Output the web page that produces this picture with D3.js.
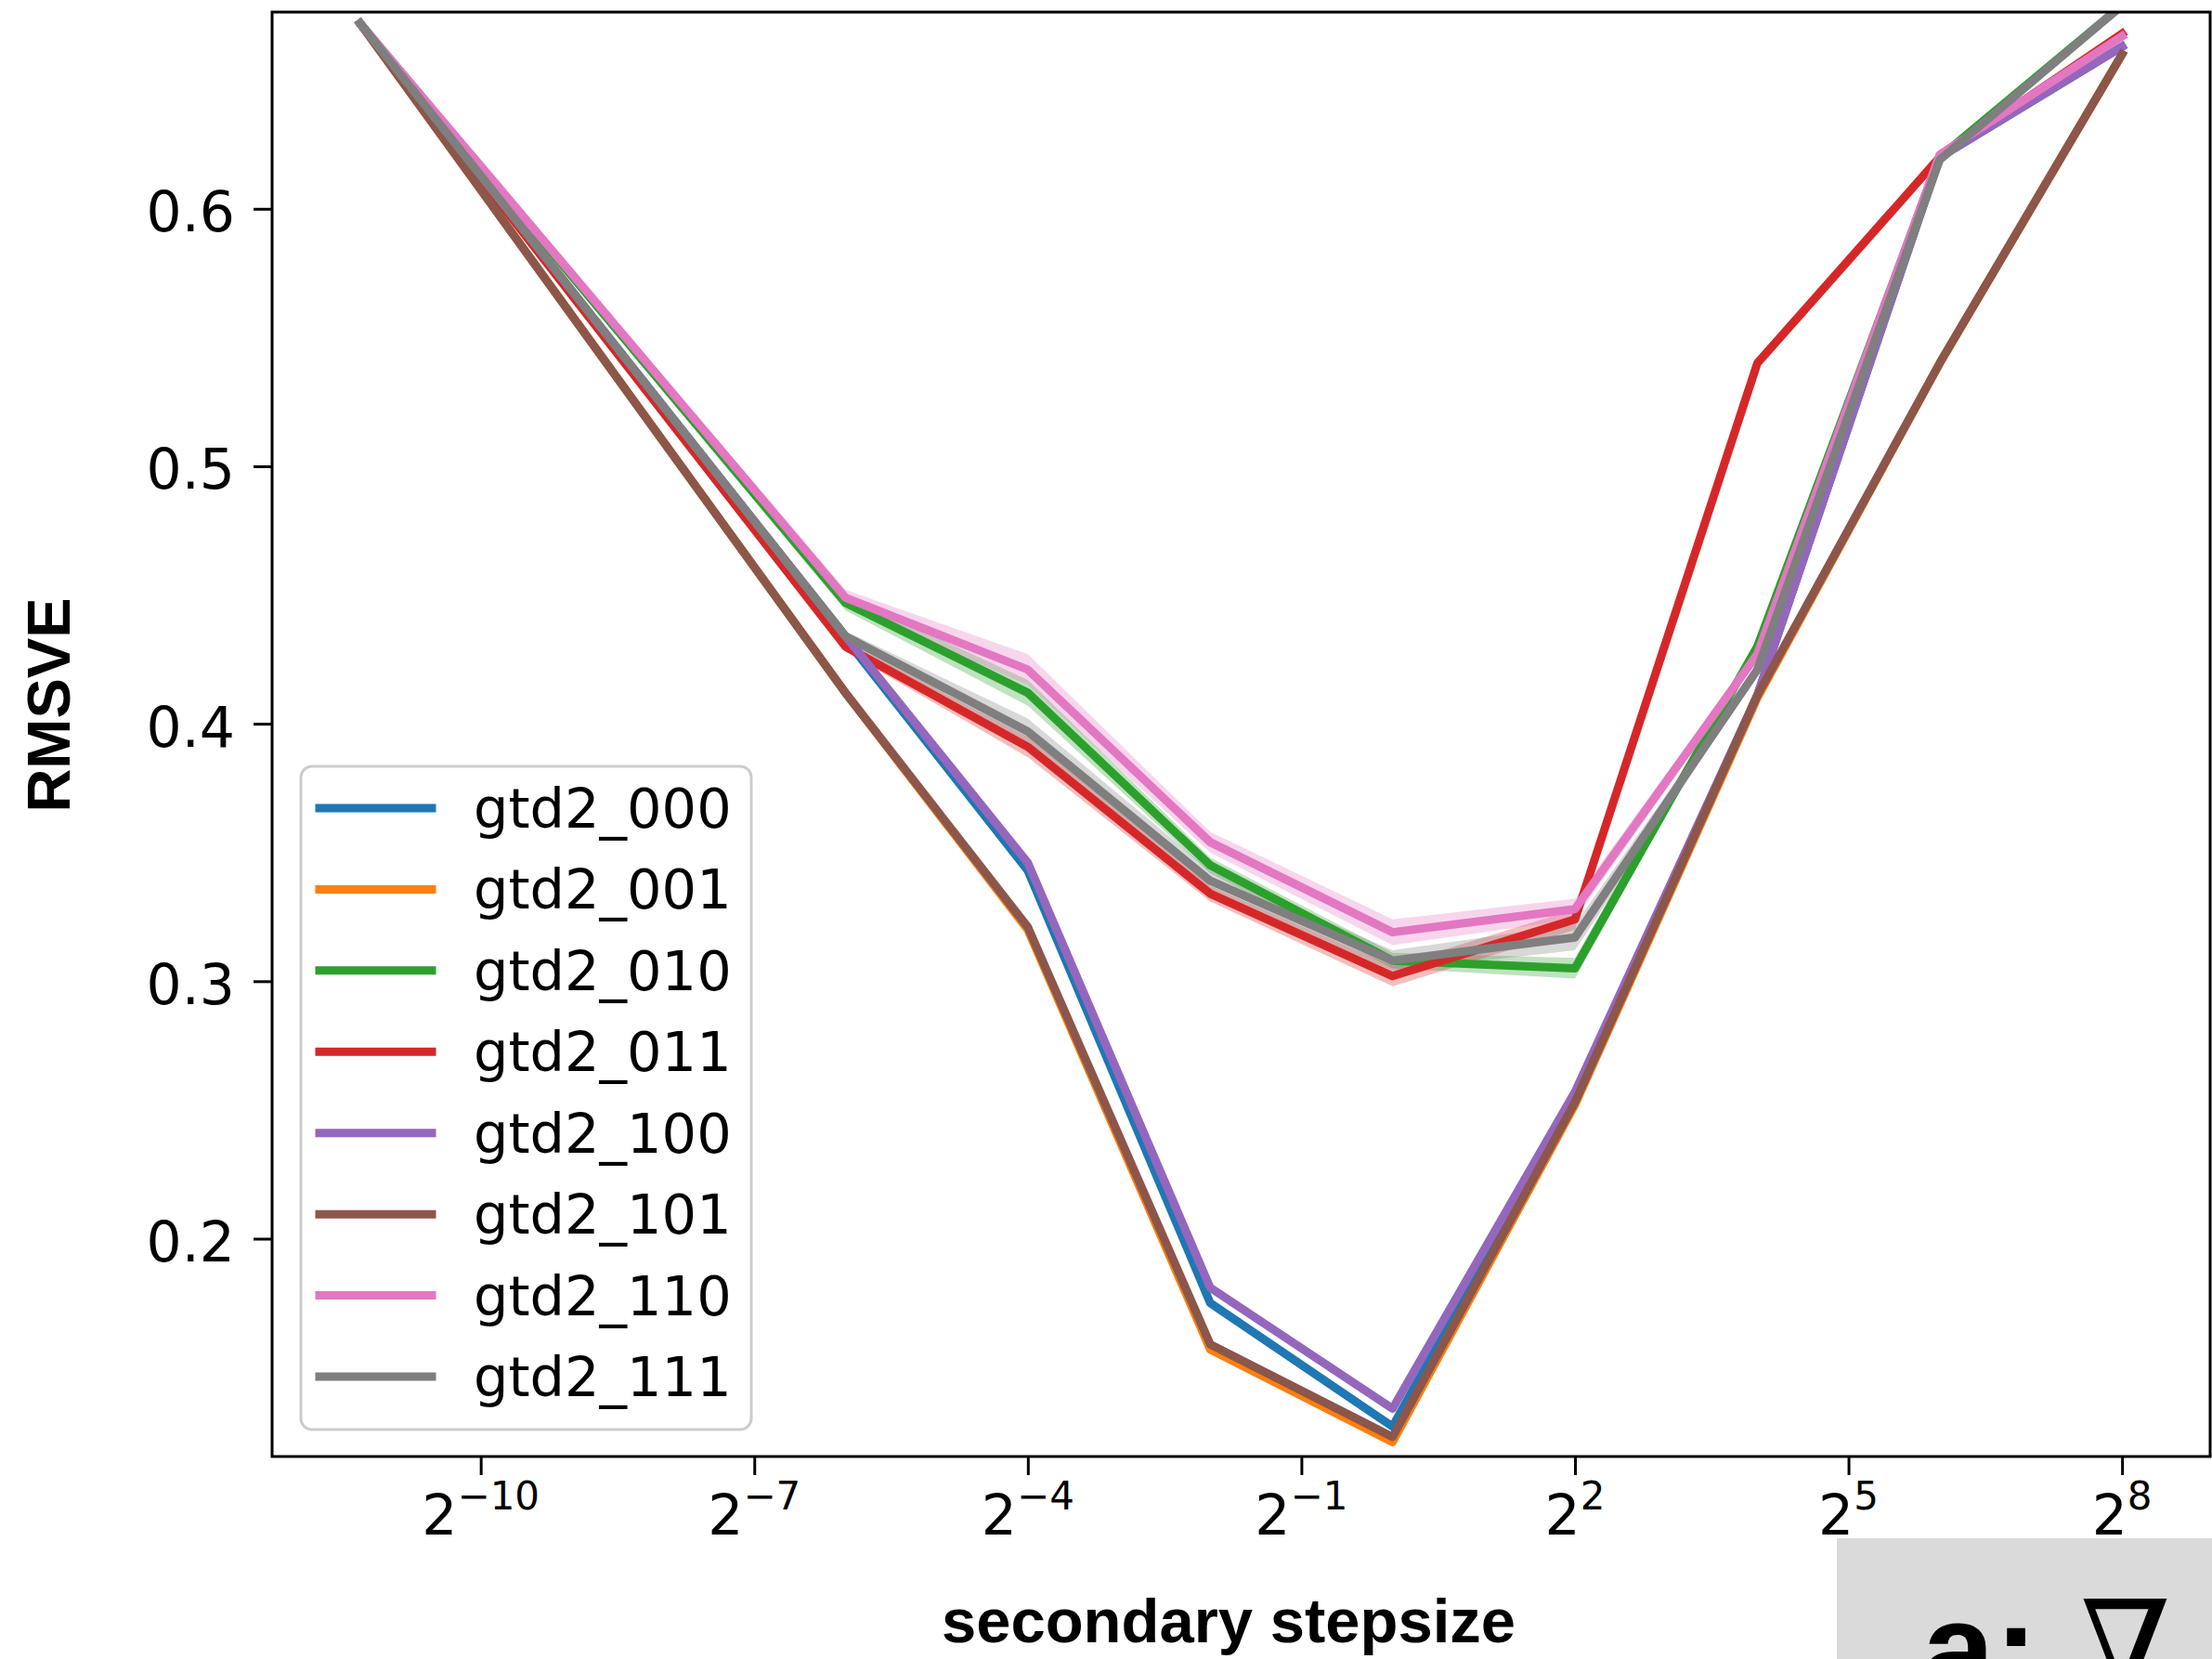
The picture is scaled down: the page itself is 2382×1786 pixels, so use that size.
<!DOCTYPE html>
<html>
<head>
<meta charset="utf-8">
<script src="https://cdn.jsdelivr.net/npm/d3@7"></script>
<style>
  body { margin: 0; background: #ffffff; }
  svg { display: block; }
</style>
</head>
<body>
<svg id="chart" width="2382" height="1786"></svg>
<script>
// Secondary step sizes, stored as base-2 exponents
const stepExponents = [-11.322, -6, -4, -2, 0, 2, 4, 6, 8];

// Mean RMSVE per configuration at each step size
const seriesNames = ["gtd2_000", "gtd2_001", "gtd2_010", "gtd2_011",
                     "gtd2_100", "gtd2_101", "gtd2_110", "gtd2_111"];
const gtd2_000 = [0.672, 0.433, 0.343, 0.175, 0.127, 0.255, 0.411, 0.620, 0.663];
const gtd2_001 = [0.672, 0.412, 0.320, 0.157, 0.121, 0.252, 0.410, 0.540, 0.660];
const gtd2_010 = [0.672, 0.447, 0.412, 0.345, 0.308, 0.305, 0.430, 0.620, 0.679];
const gtd2_011 = [0.672, 0.430, 0.391, 0.334, 0.302, 0.324, 0.540, 0.620, 0.668];
const gtd2_100 = [0.672, 0.434, 0.346, 0.181, 0.134, 0.257, 0.411, 0.620, 0.663];
const gtd2_101 = [0.672, 0.412, 0.321, 0.159, 0.123, 0.253, 0.411, 0.540, 0.660];
const gtd2_110 = [0.672, 0.449, 0.421, 0.354, 0.319, 0.328, 0.427, 0.621, 0.667];
const gtd2_111 = [0.672, 0.434, 0.397, 0.339, 0.308, 0.317, 0.421, 0.619, 0.679];

// Standard error of each mean (half-width of the shaded band)
const err_000 = [0.001, 0.001, 0.001, 0.001, 0.001, 0.001, 0.001, 0.001, 0.001];
const err_001 = [0.001, 0.001, 0.001, 0.001, 0.001, 0.001, 0.001, 0.001, 0.001];
const err_010 = [0.001, 0.003, 0.005, 0.003, 0.003, 0.004, 0.002, 0.001, 0.001];
const err_011 = [0.001, 0.002, 0.004, 0.003, 0.004, 0.004, 0.002, 0.001, 0.001];
const err_100 = [0.001, 0.001, 0.001, 0.001, 0.001, 0.001, 0.001, 0.001, 0.001];
const err_101 = [0.001, 0.001, 0.001, 0.001, 0.001, 0.001, 0.001, 0.001, 0.001];
const err_110 = [0.001, 0.003, 0.006, 0.004, 0.005, 0.004, 0.002, 0.001, 0.001];
const err_111 = [0.001, 0.002, 0.005, 0.004, 0.004, 0.005, 0.002, 0.001, 0.001];

// Axis ticks and limits
const xTickExponents = [-10, -7, -4, -1, 2, 5, 8];
const yTickValues = [0.2, 0.3, 0.4, 0.5, 0.6];
const yLimits = [0.1154, 0.6764];

const seriesValues = [gtd2_000, gtd2_001, gtd2_010, gtd2_011, gtd2_100, gtd2_101, gtd2_110, gtd2_111];
const seriesErrors = [err_000, err_001, err_010, err_011, err_100, err_101, err_110, err_111];
const palette = ["#1f77b4", "#ff7f0e", "#2ca02c", "#d62728",
                 "#9467bd", "#8c564b", "#e377c2", "#7f7f7f"];

// ---- layout ----
const plot = { left: 293, right: 2380, top: 13, bottom: 1568 };
const tickFont = "'DejaVu Sans', sans-serif";
const labelFont = "'Liberation Sans', Arial, sans-serif";
const lineWidth = 9;

const svg = d3.select("#chart");

// Log-2 x axis padded by 5% of the data span on each side (in exponent space)
const eMin = d3.min(stepExponents), eMax = d3.max(stepExponents);
const pad = 0.05 * (eMax - eMin);
const x = d3.scaleLog().base(2)
  .domain([Math.pow(2, eMin - pad), Math.pow(2, eMax + pad)])
  .range([plot.left, plot.right]);
const y = d3.scaleLinear().domain(yLimits).range([plot.bottom, plot.top]);

svg.append("defs").append("clipPath").attr("id", "plot-clip")
  .append("rect")
  .attr("x", plot.left).attr("y", plot.top)
  .attr("width", plot.right - plot.left).attr("height", plot.bottom - plot.top);

const layer = svg.append("g").attr("clip-path", "url(#plot-clip)");

const rows = (vals, errs) => stepExponents.map((e, i) => ({
  step: Math.pow(2, e), v: vals[i], se: errs[i]
}));

// Shaded error bands sit beneath every line
const area = d3.area()
  .x(d => x(d.step))
  .y0(d => y(d.v - d.se))
  .y1(d => y(d.v + d.se));
seriesValues.forEach((vals, k) => {
  layer.append("path")
    .datum(rows(vals, seriesErrors[k]))
    .attr("d", area)
    .attr("fill", palette[k])
    .attr("fill-opacity", 0.3)
    .attr("stroke", "none");
});

const line = d3.line().x(d => x(d.step)).y(d => y(d.v));
seriesValues.forEach((vals, k) => {
  layer.append("path")
    .datum(rows(vals, seriesErrors[k]))
    .attr("d", line)
    .attr("fill", "none")
    .attr("stroke", palette[k])
    .attr("stroke-width", lineWidth)
    .attr("stroke-linejoin", "round")
    .attr("stroke-linecap", "square");
});

// ---- axes ----
const xAxis = d3.axisBottom(x)
  .tickValues(xTickExponents.map(e => Math.pow(2, e)))
  .tickSize(20).tickFormat("");
const gx = svg.append("g").attr("transform", `translate(0,${plot.bottom})`).call(xAxis);
gx.select(".domain").remove();
gx.selectAll(".tick line").attr("stroke", "#000").attr("stroke-width", 3);

// Tick labels as 2 with a raised exponent
xTickExponents.forEach(e => {
  const t = svg.append("text")
    .attr("x", x(Math.pow(2, e)))
    .attr("y", 1652)
    .attr("text-anchor", "middle")
    .attr("font-family", tickFont)
    .attr("font-size", 60)
    .attr("fill", "#000");
  t.append("tspan").text("2");
  t.append("tspan")
    .attr("font-size", 42)
    .attr("dy", -27)
    .text(e < 0 ? "\u2212" + Math.abs(e) : String(e));
});

const yAxis = d3.axisLeft(y).tickValues(yTickValues).tickSize(20).tickPadding(20)
  .tickFormat(d3.format(".1f"));
const gy = svg.append("g").attr("transform", `translate(${plot.left},0)`).call(yAxis);
gy.select(".domain").remove();
gy.selectAll(".tick line").attr("stroke", "#000").attr("stroke-width", 3);
gy.selectAll(".tick text")
  .attr("font-family", tickFont)
  .attr("font-size", 60)
  .attr("fill", "#000")
  .attr("dy", "0.4em");

// Frame around the plotting area
svg.append("rect")
  .attr("x", plot.left).attr("y", plot.top)
  .attr("width", plot.right - plot.left).attr("height", plot.bottom - plot.top)
  .attr("fill", "none").attr("stroke", "#000").attr("stroke-width", 3);

// Axis titles
svg.append("text")
  .attr("x", 1323).attr("y", 1768)
  .attr("text-anchor", "middle")
  .attr("font-family", labelFont).attr("font-weight", "bold")
  .attr("font-size", 67).attr("fill", "#000")
  .text("secondary stepsize");

svg.append("text")
  .attr("transform", "translate(75,759) rotate(-90)")
  .attr("text-anchor", "middle")
  .attr("font-family", labelFont).attr("font-weight", "bold")
  .attr("font-size", 65).attr("fill", "#000")
  .text("RMSVE");

// ---- legend ----
const legend = svg.append("g");
legend.append("rect")
  .attr("x", 324).attr("y", 825)
  .attr("width", 485).attr("height", 714)
  .attr("rx", 12).attr("ry", 12)
  .attr("fill", "#ffffff").attr("fill-opacity", 0.8)
  .attr("stroke", "#cccccc").attr("stroke-width", 3);

const rowY = d3.scalePoint().domain(seriesNames).range([870, 1482]);
seriesNames.forEach((name, k) => {
  const cy = rowY(name);
  legend.append("line")
    .attr("x1", 344).attr("x2", 465)
    .attr("y1", cy).attr("y2", cy)
    .attr("stroke", palette[k])
    .attr("stroke-width", lineWidth)
    .attr("stroke-linecap", "square");
  legend.append("text")
    .attr("x", 510).attr("y", cy + 21)
    .attr("font-family", tickFont)
    .attr("font-size", 59)
    .attr("fill", "#000")
    .text(name);
});

// ---- panel tag in the lower right ----
svg.append("rect")
  .attr("x", 1978).attr("y", 1656)
  .attr("width", 2382 - 1978).attr("height", 1786 - 1656)
  .attr("fill", "#dadada");
const tag = svg.append("text")
  .attr("y", 1823)
  .attr("font-size", 140)
  .attr("fill", "#000");
tag.append("tspan").attr("x", 2070)
  .attr("font-family", "'Liberation Sans', Arial, sans-serif")
  .attr("font-weight", "bold")
  .text("a:");
tag.append("tspan").attr("x", 2240)
  .attr("font-family", "'DejaVu Serif', 'DejaVu Sans', serif")
  .attr("font-weight", "normal")
  .text("\u2207");
</script>
</body>
</html>
